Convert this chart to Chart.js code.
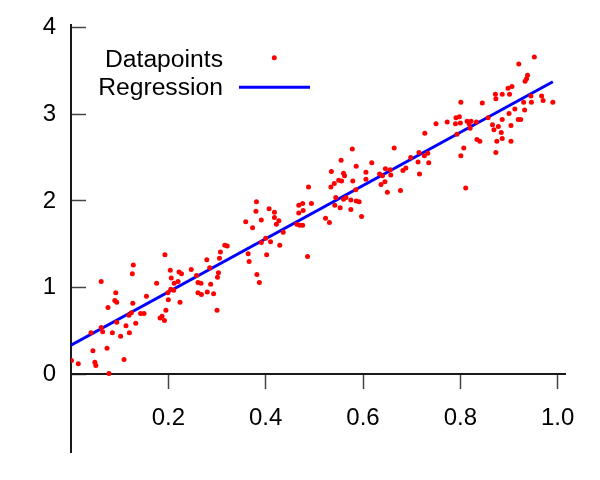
<!DOCTYPE html>
<html>
<head>
<meta charset="utf-8">
<title>Regression</title>
<script src="https://cdn.jsdelivr.net/npm/chart.js@4.4.0/dist/chart.umd.min.js"></script>
<style>
  html, body { margin: 0; padding: 0; background: #fff; }
  #wrap { width: 600px; height: 480px; }
</style>
</head>
<body>
<div id="wrap"><canvas id="chart" width="600" height="480"></canvas></div>
<script>
// ----------------- Data -----------------
const pointX = [
  0.128, 0.126, 0.062, 0.092, 0.090, 0.094, 0.127, 0.076, 0.124, 0.119,
  0.133, 0.094, 0.113, 0.062, 0.065, 0.085, 0.041, 0.120, 0.102, 0.074,
  0.045, 0.001, 0.015, 0.049, 0.051, 0.109, 0.078,
  0.193, 0.204, 0.247, 0.222, 0.227, 0.206, 0.258, 0.176, 0.220, 0.212, 0.261,
  0.205, 0.211, 0.199, 0.261, 0.155, 0.200, 0.224, 0.195, 0.143, 0.150, 0.187, 0.183, 0.192,
  0.381, 0.380, 0.391, 0.359, 0.373, 0.316, 0.321, 0.391, 0.307, 0.305, 0.364, 0.366,
  0.279, 0.285, 0.303, 0.301, 0.382, 0.387, 0.267, 0.287, 0.268, 0.280, 0.293, 0.300,
  0.488, 0.534, 0.468, 0.476, 0.494, 0.407, 0.418, 0.468, 0.477, 0.418, 0.427, 0.422,
  0.464, 0.470, 0.476, 0.523, 0.531, 0.436, 0.400, 0.410, 0.429, 0.402, 0.486,
  0.578, 0.664, 0.555, 0.618, 0.586, 0.535, 0.560, 0.562, 0.606, 0.646, 0.656, 0.634,
  0.640, 0.657, 0.550, 0.556, 0.541, 0.579, 0.606, 0.645, 0.637, 0.585, 0.650, 0.544,
  0.565, 0.560, 0.575, 0.586, 0.592, 0.542, 0.553, 0.575, 0.597,
  0.791, 0.798, 0.773, 0.750, 0.790, 0.800, 0.727, 0.793, 0.715, 0.733, 0.698, 0.726,
  0.713, 0.735, 0.801, 0.688, 0.682, 0.716, 0.677,
  0.898, 0.906, 0.872, 0.886, 0.901, 0.873, 0.801, 0.845, 0.912, 0.900, 0.857, 0.886,
  0.814, 0.822, 0.833, 0.818, 0.866, 0.878, 0.904, 0.820, 0.869, 0.884, 0.886, 0.875,
  0.904, 0.834, 0.840, 0.807, 0.873, 0.811,
  0.952, 0.920, 0.938, 0.936, 0.933, 0.945, 0.930, 0.946, 0.967, 0.970, 0.990, 0.932,
  0.924, 0.919
];
const pointY = [
  1.26, 1.16, 1.07, 0.94, 0.85, 0.83, 0.82, 0.77, 0.71, 0.68,
  0.59, 0.60, 0.56, 0.54, 0.49, 0.48, 0.48, 0.48, 0.44, 0.30,
  0.27, 0.16, 0.12, 0.14, 0.10, 0.17, 0.01,
  1.38, 1.20, 1.21, 1.18, 1.16, 1.11, 1.14, 1.05, 1.07, 1.05, 1.06,
  0.98, 0.97, 0.94, 0.94, 0.90, 0.86, 0.83, 0.74, 0.70, 0.70, 0.67, 0.65, 0.62,
  1.99, 1.88, 1.78, 1.76, 1.69, 1.49, 1.48, 1.52, 1.41, 1.34, 1.39, 1.30,
  1.32, 1.23, 1.17, 1.12, 1.15, 1.06, 1.05, 1.04, 0.92, 0.95, 0.93, 0.74,
  2.16, 2.16, 1.95, 1.97, 1.97, 1.91, 1.87, 1.86, 1.89, 1.81, 1.77, 1.73,
  1.73, 1.72, 1.72, 1.80, 1.75, 1.64, 1.57, 1.53, 1.49, 1.38, 1.36,
  2.60, 2.61, 2.47, 2.44, 2.40, 2.34, 2.32, 2.29, 2.33, 2.37, 2.36, 2.31,
  2.29, 2.30, 2.24, 2.23, 2.20, 2.23, 2.25, 2.22, 2.19, 2.13, 2.10, 2.04,
  2.04, 2.02, 2.01, 2.00, 1.99, 1.95, 1.92, 1.90, 1.82,
  2.96, 2.97, 2.91, 2.89, 2.89, 2.90, 2.78, 2.77, 2.56, 2.55, 2.50, 2.52,
  2.45, 2.44, 2.52, 2.38, 2.35, 2.31, 2.12,
  3.30, 3.32, 3.23, 3.23, 3.23, 3.18, 3.14, 3.13, 3.06, 3.01, 2.96, 2.94,
  2.92, 2.92, 2.91, 2.89, 2.88, 2.86, 2.87, 2.84, 2.82, 2.79, 2.72, 2.69,
  2.69, 2.71, 2.69, 2.61, 2.56, 2.15,
  3.66, 3.58, 3.45, 3.41, 3.38, 3.21, 3.14, 3.14, 3.21, 3.16, 3.14, 3.05,
  2.94, 2.94
];
const regressionX = [0, 0.99];
const regressionY = [0.335, 3.375];
const xTicks = [0.2, 0.4, 0.6, 0.8, 1.0];
const yTicks = [0, 1, 2, 3, 4];
const seriesNames = ['Datapoints', 'Regression'];

const FONT = '"Liberation Sans", Arial, sans-serif';
const AXIS_COLOR = '#1a1a1a';

// ----------------- Legend (text on the left, marker on the right) -----------------
const cornerLegend = {
  id: 'cornerLegend',
  afterDraw(chart) {
    const c = chart.ctx;
    const ds = chart.data.datasets;
    c.save();
    c.font = '24.7px ' + FONT;
    c.fillStyle = '#000';
    c.textAlign = 'right';
    c.textBaseline = 'alphabetic';
    c.fillText(ds[0].label, 223, 66.5);
    c.fillText(ds[1].label, 223, 95);
    // point marker
    c.fillStyle = ds[0].backgroundColor;
    c.beginPath();
    c.arc(274.3, 57.7, 2.5, 0, Math.PI * 2);
    c.fill();
    // line marker
    c.strokeStyle = ds[1].borderColor;
    c.lineWidth = 3;
    c.beginPath();
    c.moveTo(239, 87.3);
    c.lineTo(310, 87.3);
    c.stroke();
    c.restore();
  }
};

// ----------------- Chart -----------------
const ctx = document.getElementById('chart').getContext('2d');
const chart = new Chart(ctx, {
  type: 'scatter',
  data: {
    datasets: [
      {
        label: seriesNames[0],
        data: pointX.map((x, i) => ({ x: x, y: pointY[i] })),
        backgroundColor: '#ff0000',
        pointBackgroundColor: '#ff0000',
        borderColor: '#ff0000',
        pointBorderWidth: 0,
        pointRadius: 2.5,
        pointHoverRadius: 2.5
      },
      {
        label: seriesNames[1],
        data: regressionX.map((x, i) => ({ x: x, y: regressionY[i] })),
        showLine: true,
        borderColor: '#0000ff',
        backgroundColor: '#0000ff',
        borderWidth: 3,
        pointRadius: 0,
        fill: false
      }
    ]
  },
  options: {
    responsive: false,
    animation: false,
    layout: { padding: { top: 25, right: 35, bottom: 28, left: 0 } },
    plugins: { legend: { display: false }, tooltip: { enabled: false } },
    scales: {
      x: {
        type: 'linear',
        min: 0,
        max: 1.015,
        position: { y: 0 },
        afterBuildTicks: s => { s.ticks = xTicks.map(v => ({ value: v })); },
        afterFit: s => { s.paddingLeft = 0; s.paddingRight = 0; },
        grid: { drawOnChartArea: false, tickLength: 14, tickWidth: 1.5, tickColor: '#444' },
        border: { color: AXIS_COLOR, width: 2 },
        ticks: {
          padding: 16,
          color: '#000',
          maxRotation: 0,
          font: { family: FONT, size: 24 },
          callback: v => v.toFixed(1)
        }
      },
      y: {
        type: 'linear',
        min: -0.897,
        max: 4.03,
        position: 'left',
        afterBuildTicks: s => { s.ticks = yTicks.map(v => ({ value: v })); },
        afterFit: s => { s.width = 71; s.paddingTop = 0; s.paddingBottom = 0; },
        // negative length -> tick marks point into the plot
        grid: { drawOnChartArea: false, tickLength: -15, tickWidth: 1.5, tickColor: '#444' },
        border: { color: AXIS_COLOR, width: 2 },
        ticks: {
          padding: 30,
          color: '#000',
          font: { family: FONT, size: 24 },
          callback: v => String(v)
        }
      }
    }
  },
  plugins: [cornerLegend]
});
</script>
</body>
</html>
